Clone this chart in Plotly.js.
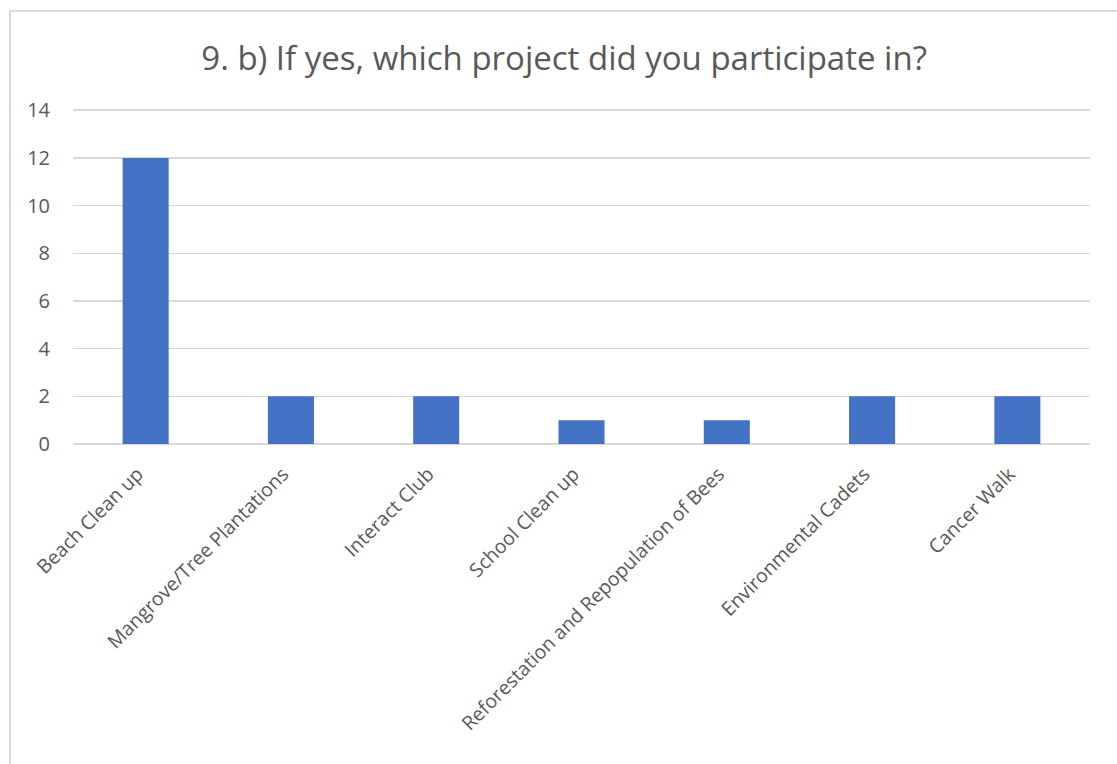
<!DOCTYPE html>
<html>
<head>
<meta charset="utf-8">
<script src="https://cdn.plot.ly/plotly-3.0.1.min.js"></script>
<style>
html,body{margin:0;padding:0;background:#fff;overflow:hidden;}
#frame{position:absolute;left:9px;top:10px;width:1120px;height:770px;border-left:2px solid #d9d9d9;border-top:2px solid #d9d9d9;box-sizing:border-box;}
#chart{position:absolute;left:0;top:0;width:1117px;height:764px;}
</style>
</head>
<body>
<div id="frame"></div>
<div id="chart"></div>
<script>
const categories = ["Beach Clean up","Mangrove/Tree Plantations","Interact Club","School Clean up","Reforestation and Repopulation of Bees","Environmental Cadets","Cancer Walk"];
const counts = [12, 2, 2, 1, 1, 2, 2];
const yTicks = [0, 2, 4, 6, 8, 10, 12, 14];
const chartTitle = "9. b) If yes, which project did you participate in?";

const trace = {
  type: "bar",
  x: categories,
  y: counts,
  marker: {color: "#4472c4"},
  hoverinfo: "x+y"
};

const layout = {
  width: 1117,
  height: 764,
  paper_bgcolor: "rgba(0,0,0,0)",
  plot_bgcolor: "rgba(0,0,0,0)",
  margin: {l: 73, r: 27, t: 109, b: 320},
  bargap: 0.683,
  showlegend: false,
  font: {family: "Open Sans, Noto Sans, sans-serif", color: "#595959", size: 20},
  title: {
    text: chartTitle,
    xref: "container", yref: "container",
    x: 0.505, y: 1 - 58/764, xanchor: "center", yanchor: "middle",
    font: {size: 33, color: "#595959", family: "Open Sans, Noto Sans, sans-serif"}
  },
  xaxis: {
    type: "category",
    tickangle: -45,
    showgrid: false,
    zeroline: false,
    showline: false,
    ticks: "",
    ticklabelshift: -8,
    ticklabelstandoff: 14,
    tickfont: {size: 19.5, color: "#595959"},
    automargin: false
  },
  yaxis: {
    range: [0, 14.05],
    tickvals: yTicks,
    ticktext: yTicks.map(String),
    showgrid: true,
    gridcolor: "#d9d9d9",
    gridwidth: 1.5,
    zeroline: true,
    zerolinecolor: "#d9d9d9",
    zerolinewidth: 1.5,
    showline: false,
    ticks: "",
    ticklabelstandoff: 22,
    tickfont: {size: 20, color: "#595959"},
    automargin: false
  }
};

Plotly.newPlot("chart", [trace], layout, {displayModeBar: false, staticPlot: true});
</script>
</body>
</html>
